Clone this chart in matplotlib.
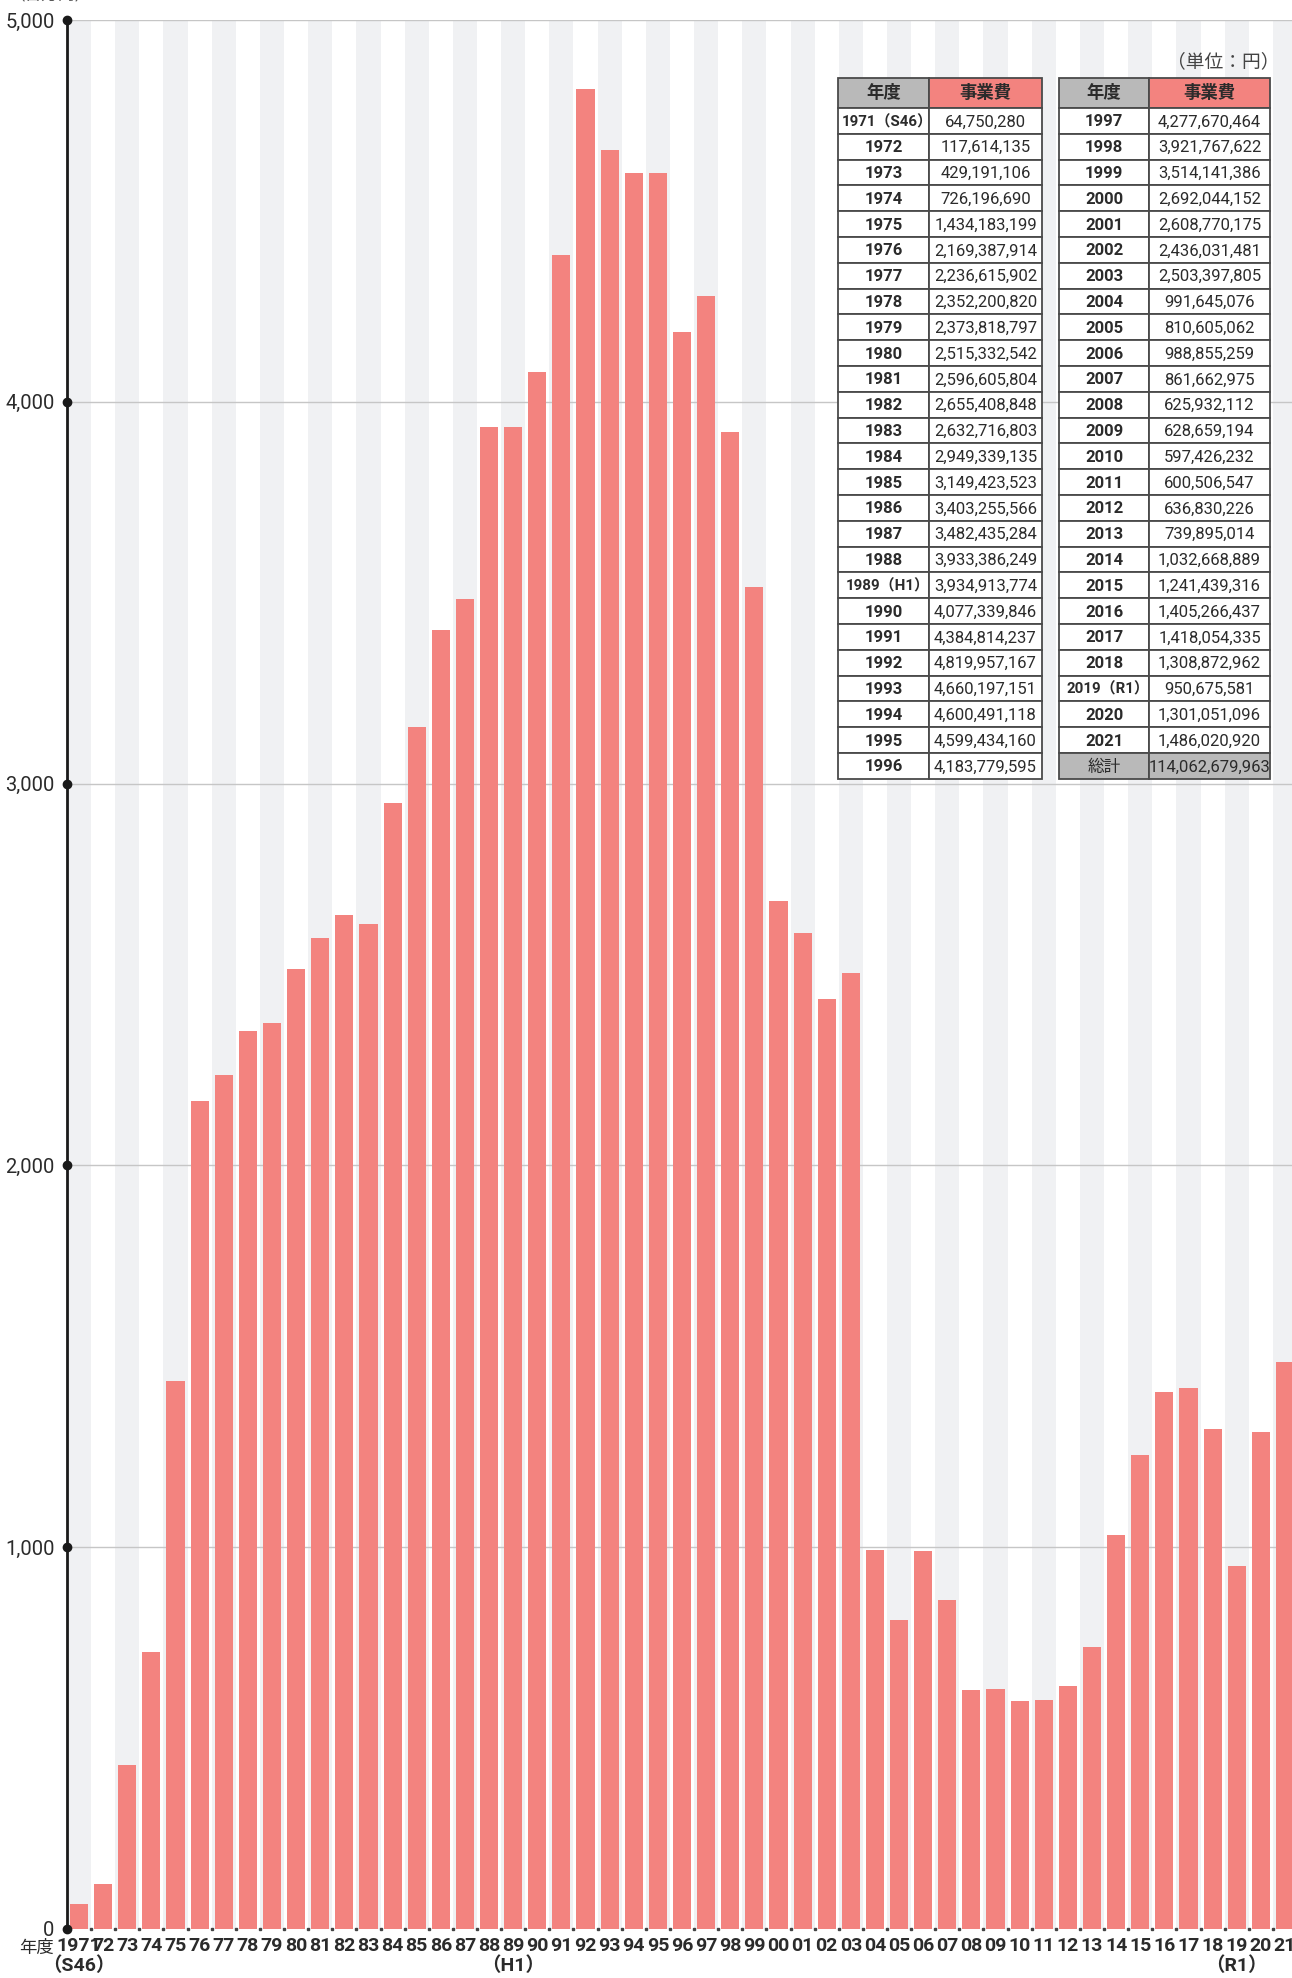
import matplotlib
matplotlib.use('Agg')
import matplotlib.pyplot as plt
from matplotlib.patches import Rectangle
import numpy as np

# data (yen)
years = list(range(1971, 2022))
costs = [64750280, 117614135, 429191106, 726196690, 1434183199, 2169387914,
         2236615902, 2352200820, 2373818797, 2515332542, 2596605804, 2655408848,
         2632716803, 2949339135, 3149423523, 3403255566, 3482435284, 3933386249,
         3934913774, 4077339846, 4384814237, 4819957167, 4660197151, 4600491118,
         4599434160, 4183779595, 4277670464, 3921767622, 3514141386, 2692044152,
         2608770175, 2436031481, 2503397805, 991645076, 810605062, 988855259,
         861662975, 625932112, 628659194, 597426232, 600506547, 636830226,
         739895014, 1032668889, 1241439316, 1405266437, 1418054335, 1308872962,
         950675581, 1301051096, 1486020920]
total_cost = 114062679963
era_notes = {1971: 'S46', 1989: 'H1', 2019: 'R1'}
yticks = [0, 1000, 2000, 3000, 4000, 5000]

W, H = 1292, 1978
FAM = ['Roboto', 'Noto Sans CJK JP', 'DejaVu Sans']
plt.rcParams['font.family'] = FAM
BAR = '#f3837f'
STRIPE = '#f0f1f3'
TXT = '#2b2b2b'

fig = plt.figure(figsize=(W / 100, H / 100), dpi=100)
fig.patch.set_facecolor('white')
ax = fig.add_axes([67 / W, 49 / H, 1230 / W, 1909 / H])

x = np.arange(len(years))
vals = np.array(costs) / 1e6

for i in x:
    if i % 2 == 0:
        ax.axvspan(i - 0.5, i + 0.5, color=STRIPE, lw=0, zorder=0)
for t in yticks[1:]:
    ax.axhline(t, color='#c6c6c6', lw=1, zorder=1)
ax.bar(x, vals, width=0.75, color=BAR, zorder=2)

ax.set_xlim(-0.5, len(years) - 0.5)
ax.set_ylim(0, 5000)
for s in ['top', 'right', 'bottom']:
    ax.spines[s].set_visible(False)
ax.spines['left'].set_color('#1a1a1a')
ax.spines['left'].set_linewidth(2)
ax.spines['left'].set_zorder(4)

ax.set_yticks(yticks)
ax.set_yticklabels([f'{t:,}' for t in yticks])
ax.tick_params(axis='y', length=0, pad=9, labelsize=14.5, labelcolor=TXT)
ax.plot([-0.5] * len(yticks), yticks, 'o', color='#1a1a1a', ms=6,
        clip_on=False, zorder=6)

# baseline little ticks
ax.plot(x + 0.5, np.zeros(len(x)), 's', color='#444444', ms=1.6,
        clip_on=False, zorder=5)

xlabels = []
for y in years:
    lab = str(y) if y == 1971 else f'{y % 100:02d}'
    if y in era_notes:
        lab += f'\n（{era_notes[y]}）'
    xlabels.append(lab)
ax.set_xticks(x)
ax.set_xticklabels(xlabels, fontweight='bold', linespacing=1.1)
ax.tick_params(axis='x', length=0, pad=6, labelsize=14, labelcolor=TXT)
fig.text(37 / W, 1 - 1940 / H, '年度', ha='center', va='top', fontsize=12.5,
         color=TXT)
fig.text(8 / W, 1 - 2 / H, '（百万円）', ha='left', va='bottom', fontsize=12,
         color='#555555')

# table overlay in pixel coordinates
tax = fig.add_axes([0, 0, 1, 1], zorder=10)
tax.set_xlim(0, W)
tax.set_ylim(H, 0)
tax.axis('off')

HEAD_GRAY = '#b9b9b9'
EDGE = '#4a4a4a'
top, head_h, row_h = 78, 30, 25.8


def year_label(y):
    return f'{y}（{era_notes[y]}）' if y in era_notes else str(y)


def draw_table(x0, xm, x1, rows):
    tax.add_patch(Rectangle((x0, top), xm - x0, head_h, fc=HEAD_GRAY, ec=EDGE, lw=1.3))
    tax.add_patch(Rectangle((xm, top), x1 - xm, head_h, fc=BAR, ec=EDGE, lw=1.3))
    tax.text((x0 + xm) / 2, top + head_h / 2, '年度', ha='center', va='center',
             fontsize=12.5, fontweight='bold', color=TXT)
    tax.text((xm + x1) / 2, top + head_h / 2, '事業費', ha='center', va='center',
             fontsize=12.5, fontweight='bold', color=TXT)
    for k, (lab, val, shade) in enumerate(rows):
        y0 = top + head_h + k * row_h
        fc = HEAD_GRAY if shade else 'white'
        tax.add_patch(Rectangle((x0, y0), xm - x0, row_h, fc=fc, ec=EDGE, lw=1.3))
        tax.add_patch(Rectangle((xm, y0), x1 - xm, row_h, fc=fc, ec=EDGE, lw=1.3))
        era = '（' in lab
        tax.text((x0 + xm) / 2 + (4 if era else 0), y0 + row_h / 2 + 1, lab,
                 ha='center', va='center', fontsize=10.8 if era else 12,
                 fontweight='normal' if shade else 'bold', color=TXT)
        tax.text((xm + x1) / 2, y0 + row_h / 2 + 1, f'{val:,}', ha='center',
                 va='center', fontsize=12, color=TXT)


left_rows = [(year_label(y), c, False) for y, c in zip(years[:26], costs[:26])]
right_rows = [(year_label(y), c, False) for y, c in zip(years[26:], costs[26:])]
right_rows.append(('総計', total_cost, True))
draw_table(838, 929, 1042, left_rows)
draw_table(1059, 1149, 1270, right_rows)
tax.text(1279, 62, '（単位：円）', ha='right', va='center', fontsize=13.5,
         color='#444444')

fig.savefig('out.png', dpi=100)
